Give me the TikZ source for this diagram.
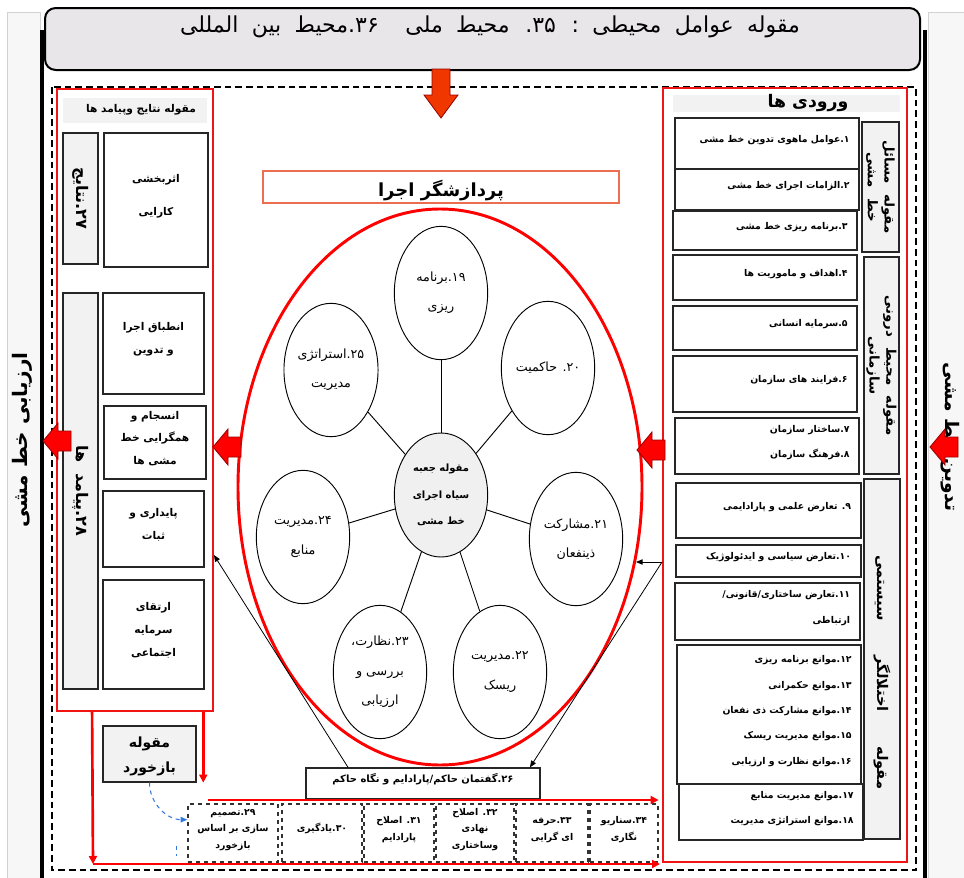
\documentclass[tikz,border=0pt]{standalone}
\usepackage{fontspec}
\newfontfamily\fafont[Script=Arabic]{DejaVu Sans}
\TeXXeTstate=1
\newcommand{\rl}[1]{\beginR #1\endR}
\newcommand{\rr}[1]{\makebox[124pt][r]{\beginR #1\endR}}
\newcommand{\widesp}[1]{\spaceskip #1\relax}
\usepackage{xcolor}
\definecolor{panelgray}{RGB}{232,230,232}
\definecolor{stripgray}{RGB}{247,247,247}
\definecolor{bandgray}{RGB}{242,242,242}
\definecolor{framered}{RGB}{240,20,20}
\definecolor{arrowred}{RGB}{255,0,0}
\definecolor{arrowedge}{RGB}{150,0,0}
\definecolor{downorange}{RGB}{240,55,0}
\definecolor{titleedge}{RGB}{235,110,80}
\definecolor{fbblue}{RGB}{50,120,220}
\usetikzlibrary{shapes.geometric, arrows.meta, positioning, fit, calc}
\tikzset{
  envpanel/.style={draw=black, line width=1.5pt, fill=panelgray,
    rounded corners=8pt, inner sep=0pt},
  stripbox/.style={draw=gray!35, fill=stripgray, inner sep=0pt},
  stripfont/.style={font=\fafont\bfseries\fontsize{15}{17}\selectfont},
  redframe/.style={draw=framered, line width=1.4pt, inner sep=0pt},
  bandtitle/.style={fill=bandgray, inner sep=0pt},
  inbox/.style={draw=black!85, line width=0.9pt, fill=white, inner sep=0pt,
    align=center, font=\fafont\bfseries\fontsize{7}{19}\selectfont},
  outbox/.style={draw=black!85, line width=0.9pt, fill=white, inner sep=0pt,
    align=center, font=\fafont\bfseries\fontsize{8}{17}\selectfont},
  catbox/.style={draw=black!85, line width=0.9pt, fill=bandgray, inner sep=0pt},
  catfont/.style={rotate=-90, align=center,
    font=\fafont\bfseries\fontsize{10}{12.5}\selectfont\widesp{8pt}},
  circnode/.style={ellipse, draw, line width=0.7pt, fill=white,
    minimum width=70pt, minimum height=100pt, inner sep=0pt, align=center,
    font=\fafont\fontsize{9.5}{22}\selectfont},
  corenode/.style={circnode, fill=gray!12, minimum height=93pt,
    font=\fafont\bfseries\fontsize{7.5}{20}\selectfont},
  procring/.style={ellipse, draw=red, line width=2.2pt,
    minimum width=303pt, minimum height=417pt, inner sep=0pt},
  dashbox/.style={draw=black!80, dashed, line width=0.9pt, fill=white,
    inner sep=0pt, align=center, font=\fafont\bfseries\fontsize{7}{12.5}\selectfont},
  redline/.style={draw=red, line width=2pt},
  redarrow/.style={redline, -{Triangle[length=6pt,width=6pt]}},
  thinarrow/.style={draw=black, line width=0.6pt, -{Triangle[length=5pt,width=4pt]}},
  spoke/.style={draw=black, line width=0.7pt},
  fbarrow/.style={draw=fbblue, dashed, line width=0.8pt,
    -{Triangle[length=5pt,width=4pt]}},
  blockleft/.pic={\draw[draw=arrowedge, line width=0.6pt, fill=arrowred]
    (0,0) -- (15,-18) -- (15,-10) -- (28,-10) -- (28,10) -- (15,10) -- (15,18) -- cycle;},
  blockdown/.pic={\draw[draw=arrowedge, line width=0.6pt, fill=downorange]
    (0,0) -- (-17,-23) -- (-9,-23) -- (-9,-49) -- (9,-49) -- (9,-23) -- (17,-23) -- cycle;}
}

\begin{document}
\begin{tikzpicture}[x=0.75pt, y=-0.75pt]

  \useasboundingbox (0,0) rectangle (964,878);
  \fill[white] (0,0) rectangle (964,878);

  % side strips
  \node[stripbox, fit={(7,12) (40,878)}] (evalstrip) {};
  \node[stripbox, fit={(928,12) (964,878)}] (formstrip) {};
  \node[stripfont, rotate=90] (evaltext) at (22,440) {\rl{ارزیابی خط مشی}};
  \node[stripfont, rotate=-90, font=\fafont\bfseries\fontsize{14}{16}\selectfont]
    (formtext) at (950,437) {\rl{تدوین خط مشی}};
  \draw[line width=3pt] (42,30) -- (42,878);
  \draw[line width=3pt] (925,30) -- (925,878);

  % environment
  \node[envpanel, fit={(45,8) (920,70)}] (env) {};
  \node[font=\fafont\fontsize{16.5}{19}\selectfont\widesp{10pt}] (envtext) at (490,27)
    {\rl{مقوله عوامل محیطی : ۳۵. محیط ملی \ ۳۶.محیط بین المللی}};
  \draw[line width=1.8pt, dash pattern=on 5pt off 3pt] (52,87) rectangle (916,870);
  \pic at (441,118) {blockdown};

  % outcomes column
  \node[redframe, fit={(57,89) (213,711)}] (outcol) {};
  \node[bandtitle, fit={(63,98) (207,123)}] (outtitle) {};
  \node[font=\fafont\bfseries\fontsize{8}{10}\selectfont] (outtitletext)
    at (141,110) {\rl{مقوله نتایج وپیامد ها}};
  \node[catbox, fit={(63,133) (98,264)}] (res) {};
  \node[catfont, font=\fafont\bfseries\fontsize{12}{14}\selectfont] (restext)
    at (res.center) {\rl{۲۷.نتایج}};
  \node[outbox, fit={(104,133) (208,267)},
    font=\fafont\bfseries\fontsize{8}{25}\selectfont] (eff) {\rl{اثربخشی}\\\rl{کارایی}};
  \node[catbox, fit={(63,293) (98,689)}] (cons) {};
  \node[catfont, font=\fafont\bfseries\fontsize{12}{14}\selectfont\widesp{8pt}] (constext)
    at (cons.center) {\rl{۲۸.پیامد ها}};
  \node[outbox, fit={(103,293) (204,394)}] (o1) {\rl{انطباق اجرا}\\\rl{و تدوین}};
  \node[outbox, fit={(104,406) (206,479)}] (o2) {\rl{انسجام و}\\\rl{همگرایی خط}\\\rl{مشی ها}};
  \node[outbox, fit={(103,491) (204,567)}] (o3) {\rl{پایداری و}\\\rl{ثبات}};
  \node[outbox, fit={(103,580) (204,689)}] (o4) {\rl{ارتقای}\\\rl{سرمایه}\\\rl{اجتماعی}};

  % inputs column
  \node[redframe, fit={(663,88) (907,862)}] (inpcol) {};
  \node[bandtitle, fit={(673,95) (900,112)}] (inptitle) {};
  \node[font=\fafont\bfseries\fontsize{13}{15}\selectfont] (inptitletext)
    at (808,103) {\rl{ورودی ها}};
  \node[inbox, fit={(675,118) (859,169)}] (i1) {\rr{۱.عوامل ماهوی تدوین خط مشی}};
  \node[inbox, fit={(675,169) (859,210)}] (i2) {\rr{۲.الزامات اجرای خط مشی}};
  \node[inbox, fit={(673,211) (857,250)}] (i3) {\rr{۳.برنامه ریزی خط مشی}};
  \node[inbox, fit={(673,255) (857,300)}] (i4) {\rr{۴.اهداف و ماموریت ها}};
  \node[inbox, fit={(673,306) (857,350)}] (i5) {\rr{۵.سرمایه انسانی}};
  \node[inbox, fit={(673,356) (857,412)}] (i6) {\rr{۶.فرایند های سازمان}};
  \node[inbox, fit={(675,418) (859,474)}] (i7) {\rr{۷.ساختار سازمان}\\\rr{۸.فرهنگ سازمان}};
  \node[inbox, fit={(676,483) (861,538)}] (i9) {\rr{۹. تعارض علمی و پارادایمی}};
  \node[inbox, fit={(676,545) (861,577)}] (i10) {\rr{۱۰.تعارض سیاسی و ایدئولوژیک}};
  \node[inbox, fit={(675,583) (860,640)}] (i11) {\rr{۱۱.تعارض ساختاری/قانونی/}\\\rr{ارتباطی}};
  \node[inbox, fit={(677,645) (861,784)}] (i12)
    {\rr{۱۲.موانع برنامه ریزی}\\\rr{۱۳.موانع حکمرانی}\\\rr{۱۴.موانع مشارکت ذی نفعان}\\
     \rr{۱۵.موانع مدیریت ریسک}\\\rr{۱۶.موانع نظارت و ارزیابی}};
  \node[inbox, fit={(679,784) (863,840)}] (i17)
    {\rr{۱۷.موانع مدیریت منابع}\\\rr{۱۸.موانع استراتژی مدیریت}};

  % input categories
  \node[catbox, fit={(862,122) (899,252)}] (catA) {};
  \node[catfont] (catAtext) at (catA.center) {\rl{مقوله مسائل}\\\rl{خط مشی}};
  \node[catbox, fit={(864,257) (899,474)}] (catB) {};
  \node[catfont] (catBtext) at (catB.center) {\rl{مقوله محیط درونی}\\\rl{سازمانی}};
  \node[catbox, fit={(864,479) (900,839)}] (catC) {};
  \node[catfont, font=\fafont\bfseries\fontsize{11}{13}\selectfont\widesp{26pt}]
    (catCtext) at ([yshift=-10pt]catC.center) {\rl{مقوله اختلالگر سیستمی}};

  % processor
  \node[draw=titleedge, line width=0.8pt, inner sep=0pt, fit={(263,171) (619,203)}] (proctitle) {};
  \node[font=\fafont\bfseries\fontsize{13.5}{16}\selectfont] (proctitletext)
    at ([yshift=-3pt]proctitle.center) {\rl{پردازشگر اجرا}};
  \node[procring] (proc) at (440,487) {};
  \node[corenode] (core) at (441,495) {\rl{مقوله جعبه}\\\rl{سیاه اجرای}\\\rl{خط مشی}};
  \node[circnode] (c19) at (441,293) {\rl{۱۹.برنامه}\\\rl{ریزی}};
  \node[circnode] (c20) at (548,368) {\rl{۲۰. حاکمیت}};
  \node[circnode] (c21) at (576,539) {\rl{۲۱.مشارکت}\\\rl{ذینفعان}};
  \node[circnode] (c22) at (500,672) {\rl{۲۲.مدیریت}\\\rl{ریسک}};
  \node[circnode] (c23) at (380,672) {\rl{۲۳.نظارت،}\\\rl{بررسی و}\\\rl{ارزیابی}};
  \node[circnode] (c24) at (303,537) {\rl{۲۴.مدیریت}\\\rl{منابع}};
  \node[circnode] (c25) at (331,370) {\rl{۲۵.استراتژی}\\\rl{مدیریت}};
  \foreach \n in {c19,c20,c21,c22,c23,c24,c25}
    \draw[spoke] (core) -- (\n);

  % discourse
  \node[draw=black!85, line width=0.9pt, fill=white, inner sep=0pt, fit={(306,768) (540,799)},
    font=\fafont\bfseries\fontsize{7.5}{9}\selectfont] (disc) {\rl{۲۶.گفتمان حاکم/پارادایم و نگاه حاکم}};

  % learning row
  \node[dashbox, fit={(188,804) (278,862)}] (b29) {\rl{۲۹.تصمیم}\\\rl{سازی بر اساس}\\\rl{بازخورد}};
  \node[dashbox, fit={(282,804) (362,862)}] (b30) {\rl{۳۰.یادگیری}};
  \node[dashbox, fit={(364,804) (434,862)}] (b31) {\rl{۳۱. اصلاح}\\\rl{پارادایم}};
  \node[dashbox, fit={(436,804) (514,862)}] (b32) {\rl{۳۲. اصلاح}\\\rl{نهادی}\\\rl{وساختاری}};
  \node[dashbox, fit={(516,804) (588,862)}] (b33) {\rl{۳۳.حرفه}\\\rl{ای گرایی}};
  \node[dashbox, fit={(590,804) (658,862)}] (b34) {\rl{۳۴.سناریو}\\\rl{نگاری}};

  % feedback
  \node[draw=black!85, line width=0.9pt, fill=bandgray, inner sep=0pt,
    fit={(103,726) (196,782)}] (fb) {};
  \node[align=center, font=\fafont\bfseries\fontsize{10.5}{19}\selectfont] (fbtext)
    at ([yshift=-2pt]fb.center) {\rl{مقوله}\\\rl{بازخورد}};

  % block arrows
  \pic at (930,447) {blockleft};
  \pic at (637,450) {blockleft};
  \pic at (213,447) {blockleft};
  \pic at (43,441) {blockleft};

  % thin connectors
  \coordinate (dA) at (inpcol.west |- 0,562);
  \coordinate (dB) at (outcol.east |- 0,555);
  \draw[thinarrow] (dA) -- (dA -| proc.-21);
  \draw[thinarrow] (dA) -- ([xshift=-8pt]disc.north east);
  \draw[thinarrow] ([xshift=32pt]disc.north west) -- (dB);

  % feedback loop
  \coordinate (fbcorner) at (93,864);
  \coordinate (fbend) at (660,864);
  \coordinate (learnstart) at (208,800);
  \draw[redarrow] ([xshift=27pt]outcol.south west) -- (fbcorner);
  \draw[redarrow] (fbcorner) -- (fbend);
  \draw[redarrow] ([xshift=-8pt]outcol.south east) -- ([xshift=-8pt]outcol.south east |- fb.south);
  \draw[redarrow] (learnstart) -- (learnstart -| b34.east);
  \draw[fbarrow] (fb.south) to[out=-90, in=180] ([yshift=10pt]b29.west);
  \draw[draw=fbblue, dashed, line width=0.8pt] ([xshift=-8pt,yshift=-10pt]b29.west) -- ++(0,10);

\end{tikzpicture}
\end{document}
